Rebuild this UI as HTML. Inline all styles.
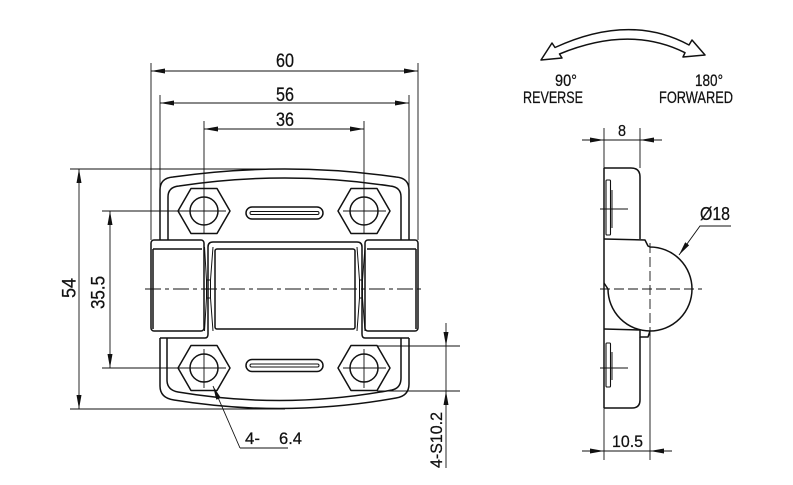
<!DOCTYPE html>
<html><head><meta charset="utf-8"><style>
html,body{margin:0;padding:0;background:#fff;}
svg{display:block;}
text{font-family:"Liberation Sans Narrow","Liberation Sans",sans-serif;fill:#111;stroke:#111;stroke-width:0.25;}
</style></head><body>
<svg width="793" height="485" viewBox="0 0 793 485" xmlns="http://www.w3.org/2000/svg">
<defs>
<marker id="a" viewBox="0 0 14 5" refX="14" refY="2.5" markerWidth="14" markerHeight="5" markerUnits="userSpaceOnUse" orient="auto-start-reverse"><path d="M0,0 L14,2.5 L0,5 Z" fill="#111"/></marker>
</defs>
<rect width="793" height="485" fill="#fff"/>

<!-- thin dimension / extension lines -->
<g fill="none" stroke="#111" stroke-width="0.9">
  <path d="M151,63 V240 M418,63 V240"/>
  <path d="M151,71 H418" marker-start="url(#a)" marker-end="url(#a)"/>
  <path d="M160,95 V192 M409,95 V192"/>
  <path d="M160,103 H409" marker-start="url(#a)" marker-end="url(#a)"/>
  <path d="M204,121 V233 M364,121 V233"/>
  <path d="M204,129 H364" marker-start="url(#a)" marker-end="url(#a)"/>
  <path d="M70,169 H285 M70,409 H285"/>
  <path d="M79,169 V409" marker-start="url(#a)" marker-end="url(#a)"/>
  <path d="M102,211 H226 M102,368 H226"/>
  <path d="M110,211 V368" marker-start="url(#a)" marker-end="url(#a)"/>
  <path d="M343,211 H386 M204,349 V388 M343,368 H386 M364,349 V388"/>
  <path d="M377,346 H460 M377,391 H460"/>
  <path d="M446,323 V346" marker-end="url(#a)"/>
  <path d="M446,468 V391" marker-end="url(#a)"/>
  <path d="M446,346 V391"/>
  <path d="M240,448 L213,386" marker-end="url(#a)"/>
  <path d="M240,448 H288"/>
  <path d="M145,289 H425" stroke-dasharray="16 4 4 4"/>

  <!-- side view dims -->
  <path d="M604,128 V460 M640,128 V168 M650,331 V460"/>
  <path d="M582,140 H604" marker-end="url(#a)"/>
  <path d="M662,140 H640" marker-end="url(#a)"/>
  <path d="M604,140 H640"/>
  <path d="M582,451 H604" marker-end="url(#a)"/>
  <path d="M672,451 H650" marker-end="url(#a)"/>
  <path d="M604,451 H650"/>
  <path d="M731,226 H700 L679,255" marker-end="url(#a)"/>
  <path d="M600,289 H702" stroke-dasharray="10 4"/>
  <path d="M650,243 V336" stroke-dasharray="10 4"/>
  <path d="M600,209 H628 M600,368 H628"/>
</g>

<!-- outlines -->
<g fill="none" stroke="#111" stroke-width="1.5" stroke-linejoin="round">
  <!-- top plate -->
  <path d="M160,240 V190 Q160,178 173,177 Q285,161 396,177 Q409,178 409,190 V240"/>
  <path d="M168,240 V197 Q168,187 179,186 Q285,170 390,186 Q401,187 401,197 V240"/>
  <!-- lower plate -->
  <path d="M160,338 V386 Q160,398 174,400 Q285,418 396,398 Q409,396 409,384 V338"/>
  <path d="M167,338 V380 Q167,390 178,392 Q285,410 392,390 Q401,388 401,378 V338"/>
  <path d="M160,338 H205 M365,338 H409"/>
  <!-- knuckles -->
  <rect x="151" y="240" width="53" height="91" rx="3"/>
  <path d="M153,249 H202 M153,249 V329"/>
  <rect x="365" y="240" width="53" height="91" rx="3"/>
  <path d="M367,249 H416 M416,249 V329"/>
  <path d="M205,338 Q208,338 208,334 V247 Q208,242 213,242 H357 Q362,242 362,247 V334 Q362,338 365,338"/>
  <rect x="215" y="249" width="140" height="80" rx="2"/>
  <path d="M204.5,247 L206.5,280 V298 L204.5,331 M213,247 L210.5,280 V298 L213,331 M206.5,280 H210.5 M206.5,298 H210.5" stroke-width="1"/>
  <path d="M357,247 L359.5,280 V298 L357,331 M365,247 L362.5,280 V298 L365,331 M359.5,280 H362.5 M359.5,298 H362.5" stroke-width="1"/>
  <!-- hexes -->
  <polygon points="178,211 191,188.5 217,188.5 230,211 217,233.5 191,233.5"/>
  <polygon points="338,211 351,188.5 377,188.5 390,211 377,233.5 351,233.5"/>
  <polygon points="178,368 191,345.5 217,345.5 230,368 217,390.5 191,390.5"/>
  <polygon points="338,368 351,345.5 377,345.5 390,368 377,390.5 351,390.5"/>
  <circle cx="204" cy="211" r="14"/>
  <circle cx="364" cy="211" r="14"/>
  <circle cx="204" cy="368" r="14"/>
  <circle cx="364" cy="368" r="14"/>
  <!-- slots -->
  <rect x="246" y="207" width="77" height="12" rx="6"/>
  <rect x="250" y="211.5" width="69" height="3" rx="1.5" stroke-width="1"/>
  <rect x="246" y="359.5" width="77" height="12" rx="6"/>
  <rect x="250" y="364" width="69" height="3" rx="1.5" stroke-width="1"/>

  <!-- side view -->
  <path d="M604,168 V408"/>
  <path d="M604,168 H631 Q640,168 640,177 V239"/>
  <path d="M604,239 L645,240 L648,246 L650,247 A42,42 0 1 1 608,289 L604,283"/>
  <path d="M604,329 L640,330 V337 H648 L650,331"/>
  <path d="M640,337 V400 Q640,408 632,408 H604"/>
  <rect x="606" y="180" width="4.5" height="55" rx="1" stroke-width="1.1"/>
  <path d="M612,190 V228" stroke-width="1"/>
  <rect x="606" y="343" width="4.5" height="44" rx="1" stroke-width="1.1"/>
  <path d="M612,352 V380" stroke-width="1"/>

  <!-- rotation arrow -->
  <path d="M541,60 L552,43 L555,47.5 Q630,13 689,45 L692,40 L705,55 L683,57 L685,52.7 Q630,25 559.5,54 L562,58 Z" fill="#fff"/>
</g>

<!-- texts -->
<text x="276" y="67" font-size="19" textLength="18" lengthAdjust="spacingAndGlyphs">60</text>
<text x="276" y="101" font-size="19" textLength="18" lengthAdjust="spacingAndGlyphs">56</text>
<text x="276" y="126" font-size="19" textLength="18" lengthAdjust="spacingAndGlyphs">36</text>
<text transform="translate(75.5,298) rotate(-90)" x="0" y="0" font-size="19" textLength="20" lengthAdjust="spacingAndGlyphs">54</text>
<text transform="translate(104.5,309) rotate(-90)" x="0" y="0" font-size="19" textLength="33" lengthAdjust="spacingAndGlyphs">35.5</text>
<text transform="translate(442,468) rotate(-90)" x="0" y="0" font-size="17" textLength="56" lengthAdjust="spacingAndGlyphs">4-S10.2</text>
<text x="245" y="444" font-size="17" textLength="15" lengthAdjust="spacingAndGlyphs">4-</text>
<text x="279" y="444" font-size="17" textLength="23" lengthAdjust="spacingAndGlyphs">6.4</text>
<text x="555" y="86" font-size="16.5" textLength="22" lengthAdjust="spacingAndGlyphs">90°</text>
<text x="523" y="103" font-size="16.5" textLength="60" lengthAdjust="spacingAndGlyphs">REVERSE</text>
<text x="695" y="86" font-size="16.5" textLength="28" lengthAdjust="spacingAndGlyphs">180°</text>
<text x="659" y="103" font-size="16.5" textLength="74" lengthAdjust="spacingAndGlyphs">FORWARED</text>
<text x="618" y="136" font-size="16" textLength="8" lengthAdjust="spacingAndGlyphs">8</text>
<text x="700" y="220" font-size="18.5" textLength="30" lengthAdjust="spacingAndGlyphs">Ø18</text>
<text x="612" y="447" font-size="17" textLength="31" lengthAdjust="spacingAndGlyphs">10.5</text>
</svg>
</body></html>
